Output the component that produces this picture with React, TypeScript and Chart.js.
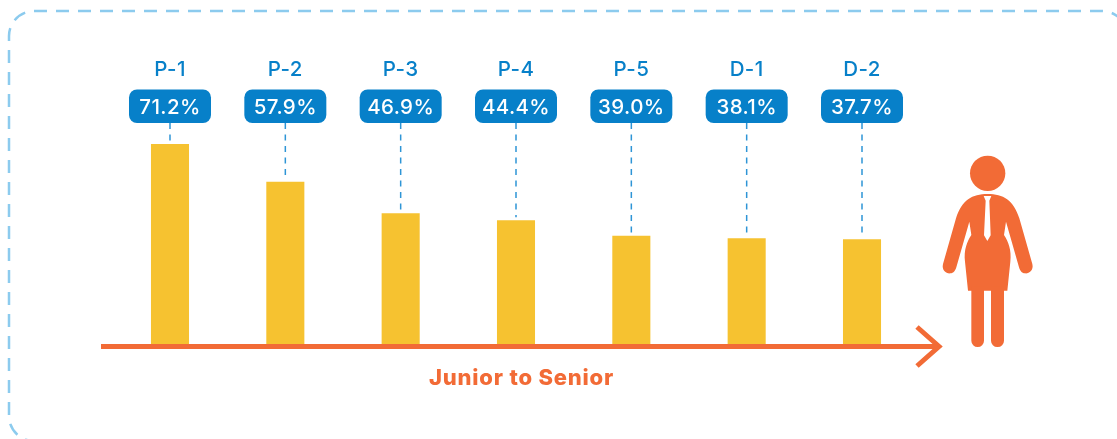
import React, { useEffect, useRef } from "react";
import { Chart, registerables } from "chart.js";

Chart.register(...registerables);

const categories = ["P-1", "P-2", "P-3", "P-4", "P-5", "D-1", "D-2"];
const shares = [71.2, 57.9, 46.9, 44.4, 39.0, 38.1, 37.7];
const caption = "Junior to Senior";

const BLUE = "#0780C9";
const ORANGE = "#F26B36";
const FONT = "Inter, Lato, sans-serif";

function drawFrame(ctx: CanvasRenderingContext2D) {
  ctx.save();
  ctx.strokeStyle = "#8CCBEE";
  ctx.lineWidth = 2.5;
  ctx.lineCap = "butt";
  ctx.setLineDash([13, 9]);
  ctx.beginPath();
  ctx.moveTo(34, 11);
  ctx.lineTo(1102, 11);
  ctx.arc(1102, 36, 25, -Math.PI / 2, 0);
  ctx.stroke();
  ctx.lineDashOffset = -9;
  ctx.beginPath();
  ctx.moveTo(34, 11);
  ctx.arc(34, 36, 25, -Math.PI / 2, Math.PI, true);
  ctx.lineTo(9, 416);
  ctx.arc(34, 416, 25, Math.PI, Math.PI / 2, true);
  ctx.stroke();
  ctx.restore();
}

function drawArrow(ctx: CanvasRenderingContext2D) {
  ctx.save();
  ctx.strokeStyle = ORANGE;
  ctx.lineWidth = 5;
  ctx.beginPath();
  ctx.moveTo(101, 346.5);
  ctx.lineTo(938, 346.5);
  ctx.stroke();
  ctx.beginPath();
  ctx.moveTo(917, 327);
  ctx.lineTo(939, 346.5);
  ctx.lineTo(917, 366);
  ctx.stroke();
  ctx.fillStyle = ORANGE;
  ctx.font = `800 22px ${FONT}`;
  (ctx as any).letterSpacing = "0.8px";
  ctx.textAlign = "center";
  ctx.textBaseline = "middle";
  ctx.fillText(caption, 521.5, 378.5);
  ctx.restore();
}

function drawFigure(ctx: CanvasRenderingContext2D) {
  ctx.save();
  ctx.translate(900, 140);
  ctx.scale(1 / 3, 1 / 3);
  ctx.fillStyle = ORANGE;
  ctx.beginPath();
  ctx.arc(263, 100, 53, 0, Math.PI * 2);
  ctx.fill();
  const side = (m: (x: number) => number) => {
    ctx.bezierCurveTo(m(310), 162, m(340), 180, m(358), 235);
    ctx.lineTo(m(397), 372);
    ctx.bezierCurveTo(m(402), 392, m(385), 402, m(375), 400);
    ctx.bezierCurveTo(m(365), 400, m(360), 392, m(357), 382);
    ctx.lineTo(m(318), 245);
    ctx.lineTo(m(312), 285);
    ctx.bezierCurveTo(m(325), 305, m(335), 330, m(331), 365);
    ctx.lineTo(m(322), 452);
    ctx.lineTo(m(263), 452);
  };
  const right = (x: number) => x;
  const left = (x: number) => 526 - x;
  ctx.beginPath();
  ctx.moveTo(263, 162);
  side(right);
  ctx.closePath();
  ctx.moveTo(263, 162);
  side(left);
  ctx.closePath();
  ctx.fill();
  ctx.beginPath();
  ctx.roundRect(214, 440, 38, 181, [0, 0, 19, 19]);
  ctx.roundRect(273, 440, 39, 181, [0, 0, 19, 19]);
  ctx.fill();
  ctx.fillStyle = "#FFFFFF";
  ctx.beginPath();
  ctx.moveTo(251, 168);
  ctx.lineTo(274, 168);
  ctx.lineTo(268, 182);
  ctx.lineTo(272, 286);
  ctx.lineTo(262, 303);
  ctx.lineTo(252, 286);
  ctx.lineTo(257, 182);
  ctx.closePath();
  ctx.fill();
  ctx.restore();
}

const decorations = {
  id: "decorations",
  afterDatasetsDraw(chart: any) {
    const { ctx, scales } = chart;
    drawFrame(ctx);
    categories.forEach((name, i) => {
      const x = scales.x.getPixelForValue(i);
      const y = scales.y.getPixelForValue(shares[i]);
      ctx.save();
      ctx.strokeStyle = "#2E95D6";
      ctx.lineWidth = 1.5;
      ctx.setLineDash([6, 5.5]);
      ctx.beginPath();
      ctx.moveTo(x, 123);
      ctx.lineTo(x, y - 3);
      ctx.stroke();
      ctx.setLineDash([]);
      ctx.fillStyle = BLUE;
      ctx.beginPath();
      ctx.roundRect(x - 41, 89.5, 82, 33.5, 8);
      ctx.fill();
      ctx.textAlign = "center";
      ctx.textBaseline = "middle";
      ctx.fillStyle = "#FFFFFF";
      ctx.font = `500 20.5px ${FONT}`;
      (ctx as any).letterSpacing = "0.4px";
      ctx.fillText(`${shares[i].toFixed(1)}%`, x, 107.5);
      ctx.fillStyle = BLUE;
      ctx.fillText(name, x, 70);
      ctx.restore();
    });
    drawArrow(ctx);
    drawFigure(ctx);
  },
};

export default function App() {
  const ref = useRef<HTMLCanvasElement>(null);
  useEffect(() => {
    if (!ref.current) return;
    const chart = new Chart(ref.current, {
      type: "bar",
      data: {
        labels: categories,
        datasets: [
          {
            data: shares,
            backgroundColor: "#F6C230",
            categoryPercentage: 1,
            barPercentage: 0.33,
          },
        ],
      },
      options: {
        animation: false,
        responsive: false,
        layout: { padding: { left: 112.33, right: 197.33, top: 61.8, bottom: 92.2 } },
        plugins: { legend: { display: false }, tooltip: { enabled: false } },
        scales: {
          x: { display: false },
          y: { display: false, min: 0, max: 100 },
        },
      },
      plugins: [decorations],
    });
    return () => chart.destroy();
  }, []);
  return (
    <div style={{ position: "absolute", left: 0, top: 0, width: 1117, height: 439, background: "#fff", overflow: "hidden" }}>
      <canvas ref={ref} width={1117} height={439} style={{ display: "block" }} />
    </div>
  );
}
